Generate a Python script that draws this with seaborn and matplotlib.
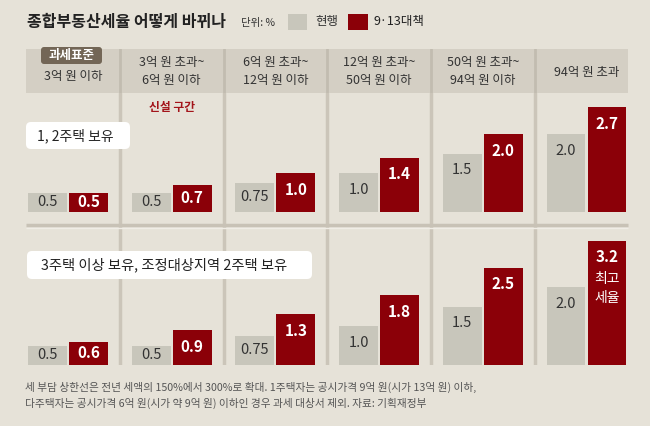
import pandas as pd
import matplotlib
matplotlib.use('Agg')
import matplotlib.pyplot as plt
from matplotlib.patches import FancyBboxPatch, Rectangle
import seaborn as sns

# 데이터
categories = ['3억 원 이하', '3억 원 초과~\n6억 원 이하', '6억 원 초과~\n12억 원 이하',
              '12억 원 초과~\n50억 원 이하', '50억 원 초과~\n94억 원 이하', '94억 원 초과']
hue_names = ['현행', '9·13대책']
current_12 = [0.5, 0.5, 0.75, 1.0, 1.5, 2.0]
new_12 = [0.5, 0.7, 1.0, 1.4, 2.0, 2.7]
current_3 = [0.5, 0.5, 0.75, 1.0, 1.5, 2.0]
new_3 = [0.6, 0.9, 1.3, 1.8, 2.5, 3.2]

BG = '#e6e2d8'
HEAD = '#d4cfc4'
DIV = '#cbc5b9'
GRAY = '#c8c6bb'
RED = '#8b0008'
pal = {'현행': GRAY, '9·13대책': RED}

sns.set_theme(style='white')
plt.rcParams['font.family'] = ['Noto Sans CJK KR', 'DejaVu Sans']

W, H = 650, 426
PX = 38.9  # 1%p 당 픽셀


def rect(x0, y0, x1, y1):
    return [x0 / W, 1 - y1 / H, (x1 - x0) / W, (y1 - y0) / H]


def make_df(cur, new):
    rows = []
    for c, a, b in zip(categories, cur, new):
        rows.append({'구간': c, '구분': '현행', '세율': a})
        rows.append({'구간': c, '구분': '9·13대책', '세율': b})
    return pd.DataFrame(rows)


def fmt(v):
    return f'{v:.2f}' if round(v * 10, 6) != round(v * 10) else f'{v:.1f}'


fig = plt.figure(figsize=(6.5, 4.26), dpi=100, facecolor=BG)
XLIM = (-0.405, 5.40)

# 헤더 (과세표준)
axh = fig.add_axes(rect(26, 49, 628, 93))
axh.set_facecolor(HEAD)
axh.set_xlim(*XLIM)
axh.set_ylim(93, 49)
for s in axh.spines.values():
    s.set_visible(False)
axh.set_xticks([])
axh.set_yticks([])
for i in range(5):
    axh.axvline(i + 0.5, color='#c2bcb0', lw=2)
for i, c in enumerate(categories):
    xx = 0.05 if i == 0 else i
    lines = c.split('\n')
    if len(lines) == 1:
        axh.text(xx, 77 if i == 0 else 73, lines[0], ha='center', va='center', fontsize=9, color='#333333')
    else:
        axh.text(xx, 63, lines[0], ha='center', va='center', fontsize=9, color='#333333')
        axh.text(xx, 81, lines[1], ha='center', va='center', fontsize=9, color='#333333')


def draw_panel(ax, df, cur, new, ybot, ytop):
    sns.barplot(data=df, x='구간', y='세율', hue='구분', order=categories, hue_order=hue_names,
                palette=pal, width=0.79, gap=0.05, saturation=1, errorbar=None,
                linewidth=0, legend=False, ax=ax)
    ax.set_xlim(*XLIM)
    ax.set_ylim(ybot, ytop)
    ax.set_axis_off()
    for i in range(5):
        ax.axvline(i + 0.5, color=DIV, lw=2.5, zorder=0)
    for cont, vals, col, wt, fs in zip(ax.containers, [cur, new], ['#333333', 'white'],
                                        ['normal', 'bold'], [10.5, 11]):
        for bar, v in zip(cont, vals):
            x = bar.get_x() + bar.get_width() / 2
            y = max(v - 0.43, v / 2)
            ax.text(x, y, fmt(v), ha='center', va='center', color=col,
                    fontweight=wt, fontsize=fs, zorder=5)
    return ax


# 1, 2주택
ax1 = fig.add_axes(rect(26, 93, 628, 225))
ax1.patch.set_visible(False)
draw_panel(ax1, make_df(current_12, new_12), current_12, new_12,
           -(225 - 212) / PX, (212 - 93) / PX)
ax1.text(1, (212 - 108) / PX, '신설 구간', ha='center', va='center', fontsize=8.5,
         fontweight='bold', color='#a3141a')

# 3주택 이상
ax2 = fig.add_axes(rect(26, 225, 628, 365))
ax2.patch.set_visible(False)
draw_panel(ax2, make_df(current_3, new_3), current_3, new_3, 0, (365 - 225) / PX)
top_bar = ax2.containers[1][5]
xt = top_bar.get_x() + top_bar.get_width() / 2
ax2.text(xt, new_3[5] - 1.0, '최고', ha='center', va='center', fontsize=10, color='white')
ax2.text(xt, new_3[5] - 1.47, '세율', ha='center', va='center', fontsize=10, color='white')

# 텍스트 / 장식
ov = fig.add_axes([0, 0, 1, 1], zorder=10)
ov.patch.set_visible(False)
ov.set_xlim(0, W)
ov.set_ylim(H, 0)
ov.set_axis_off()

ov.text(27, 22, '종합부동산세율 어떻게 바뀌나', ha='left', va='center', fontsize=11.5,
        fontweight='bold', color='#222222')
ov.text(241, 23, '단위: %', ha='left', va='center', fontsize=7.5, color='#333333')
ov.add_patch(Rectangle((288, 14), 19, 16, color=GRAY, lw=0))
ov.text(315, 22, '현행', ha='left', va='center', fontsize=9, color='#333333')
ov.add_patch(Rectangle((348, 14), 20, 16, color=RED, lw=0))
ov.text(373, 22, '9·13대책', ha='left', va='center', fontsize=9, color='#222222')

ov.add_patch(FancyBboxPatch((41, 47), 61, 17, boxstyle='round,pad=0,rounding_size=3',
                            color='#736656', lw=0))
ov.text(71.5, 55.5, '과세표준', ha='center', va='center', fontsize=9, fontweight='bold',
        color='white')

# 패널 구분선
ov.hlines(225, 26, 628, color='#c8c2b6', lw=2.5)
ov.hlines(227.5, 26, 628, color='#f0ede6', lw=1)

ov.add_patch(FancyBboxPatch((26, 122), 104, 27, boxstyle='round,pad=0,rounding_size=5',
                            color='white', lw=0))
ov.text(37, 136, '1, 2주택 보유', ha='left', va='center', fontsize=10, color='#222222')
ov.add_patch(FancyBboxPatch((27, 251), 285, 28, boxstyle='round,pad=0,rounding_size=5',
                            color='white', lw=0))
ov.text(41, 265, '3주택 이상 보유, 조정대상지역 2주택 보유', ha='left', va='center',
        fontsize=10.3, color='#222222')

ov.text(25, 387, '세 부담 상한선은 전년 세액의 150%에서 300%로 확대. 1주택자는 공시가격 9억 원(시가 13억 원) 이하,',
        ha='left', va='center', fontsize=7.7, color='#555555')
ov.text(25, 403, '다주택자는 공시가격 6억 원(시가 약 9억 원) 이하인 경우 과세 대상서 제외. 자료: 기획재정부',
        ha='left', va='center', fontsize=7.7, color='#555555')

fig.savefig('out.png', dpi=100, facecolor=BG)
